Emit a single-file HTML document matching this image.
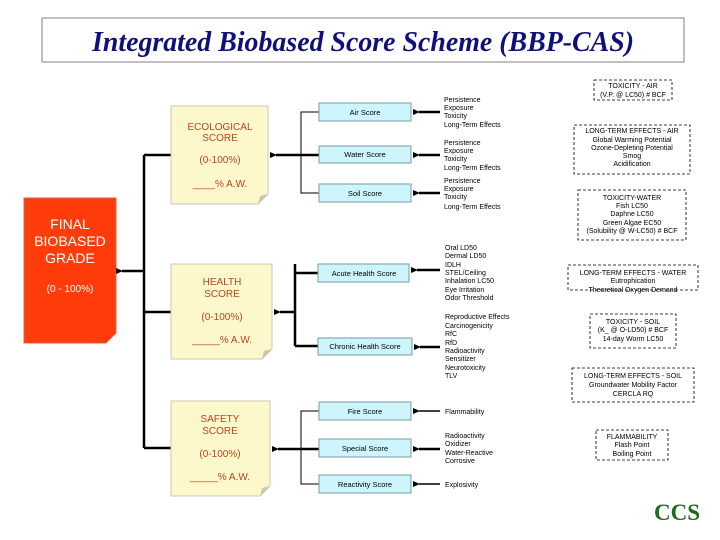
<!DOCTYPE html>
<html><head><meta charset="utf-8"><style>
body{margin:0;background:#fff;width:720px;height:540px;overflow:hidden}
svg{display:block}
.t{font-family:"Liberation Sans",sans-serif;font-size:7px;fill:#000}
.s{font-family:"Liberation Sans",sans-serif;font-size:7.5px;fill:#000;text-anchor:middle}
.o{font-family:"Liberation Sans",sans-serif;font-size:10px;fill:#b5461c;text-anchor:middle}
.d{font-family:"Liberation Sans",sans-serif;font-size:7px;fill:#000;text-anchor:middle}
</style></head><body>
<svg width="720" height="540" viewBox="0 0 720 540" xmlns="http://www.w3.org/2000/svg">
<defs><marker id="a" markerUnits="userSpaceOnUse" markerWidth="7" markerHeight="7" refX="1" refY="3.5" orient="auto"><path d="M7,0.5 L0,3.5 L7,6.5z" fill="#000"/></marker></defs>
<rect x="42" y="18" width="642" height="44" fill="#fff" stroke="#aaa" stroke-width="1.5"/>
<text x="92" y="51" textLength="542" lengthAdjust="spacingAndGlyphs" font-family="Liberation Serif,serif" font-style="italic" font-weight="bold" font-size="28" fill="#10107a">Integrated Biobased Score Scheme (BBP-CAS)</text>

<!-- final -->
<path d="M24,198 H116 V333 L106,343 H24z" fill="#ff3c0a" stroke="#e06040"/>
<g font-family="Liberation Sans,sans-serif" font-size="14" fill="#fff" text-anchor="middle"><text x="70" y="229">FINAL</text><text x="70" y="246">BIOBASED</text><text x="70" y="263">GRADE</text><text x="70" y="292" font-size="10">(0 - 100%)</text></g>
<path d="M144,155 V448" stroke="#000" stroke-width="2.5" fill="none"/>
<path d="M144,155 H171 M144,312 H171 M144,448 H171" stroke="#000" stroke-width="2.5"/>
<path d="M144,271 H122" stroke="#000" stroke-width="2.5" marker-end="url(#a)"/>

<!-- notes -->
<g fill="#fdf8cc" stroke="#c8c8b0">
<path d="M171,106 H268 V194 L258,204 H171z"/>
<path d="M171,264 H272 V349 L262,359 H171z"/>
<path d="M171,401 H270 V486 L260,496 H171z"/>
</g>
<g fill="#c8c8b0"><path d="M268,194 L258,204 L260,196z"/><path d="M272,349 L262,359 L264,351z"/><path d="M270,486 L260,496 L262,488z"/></g>
<text class="o" x="220" y="130">ECOLOGICAL</text><text class="o" x="220" y="141">SCORE</text><text class="o" x="220" y="163">(0-100%)</text><text class="o" x="220" y="187">____% A.W.</text>
<text class="o" x="222" y="285">HEALTH</text><text class="o" x="222" y="297">SCORE</text><text class="o" x="222" y="320">(0-100%)</text><text class="o" x="222" y="343">_____% A.W.</text>
<text class="o" x="220" y="422">SAFETY</text><text class="o" x="220" y="434">SCORE</text><text class="o" x="220" y="457">(0-100%)</text><text class="o" x="220" y="480">_____% A.W.</text>

<!-- connectors -->
<g stroke="#000" fill="none">
<path d="M319,112 H301 V193 H319"/>
<path d="M295,264 V346" stroke-width="2.5"/><path d="M295,273 H318 M295,346 H318" stroke-width="2.5"/>
<path d="M319,411 H301 V484 H319"/>
<path d="M319,155 H276" stroke-width="2.5" marker-end="url(#a)"/>
<path d="M295,312 H280" stroke-width="2.5" marker-end="url(#a)"/>
<path d="M319,449 H278" stroke-width="2.5" marker-end="url(#a)"/>
<g stroke-width="2.5">
<path d="M440,112 H419" marker-end="url(#a)"/>
<path d="M440,155 H419" marker-end="url(#a)"/>
<path d="M440,193 H419" marker-end="url(#a)"/>
<path d="M440,270 H417" marker-end="url(#a)"/>
<path d="M440,347 H420" marker-end="url(#a)"/>
<path d="M440,411 H419" marker-end="url(#a)" stroke-width="1.5"/>
<path d="M440,449 H419" marker-end="url(#a)"/>
<path d="M440,484 H419" marker-end="url(#a)" stroke-width="1.5"/>
</g></g>

<g fill="#ccf6fc" stroke="#7a9aa8">
<rect x="319" y="103" width="92" height="18"/><rect x="319" y="146" width="92" height="17"/><rect x="319" y="184" width="92" height="18"/>
<rect x="318" y="264" width="91" height="18"/><rect x="318" y="338" width="94" height="17"/>
<rect x="319" y="402" width="92" height="18"/><rect x="319" y="439" width="92" height="18"/><rect x="319" y="475" width="92" height="18"/>
</g>
<text class="s" x="365" y="115">Air Score</text><text class="s" x="365" y="157">Water Score</text><text class="s" x="365" y="196">Soil Score</text>
<text class="s" x="364" y="276">Acute Health Score</text><text class="s" x="365" y="349">Chronic Health Score</text>
<text class="s" x="365" y="414">Fire Score</text><text class="s" x="365" y="451">Special Score</text><text class="s" x="365" y="487">Reactivity Score</text>

<g class="t">
<text x="444" y="102">Persistence</text><text x="444" y="110">Exposure</text><text x="444" y="118">Toxicity</text><text x="444" y="127">Long-Term Effects</text>
<text x="444" y="145">Persistence</text><text x="444" y="153">Exposure</text><text x="444" y="161">Toxicity</text><text x="444" y="170">Long-Term Effects</text>
<text x="444" y="183">Persistence</text><text x="444" y="191">Exposure</text><text x="444" y="199">Toxicity</text><text x="444" y="209">Long-Term Effects</text>
<text x="445" y="250">Oral LD50</text><text x="445" y="258">Dermal LD50</text><text x="445" y="267">IDLH</text><text x="445" y="275">STEL/Ceiling</text><text x="445" y="283">Inhalation LC50</text><text x="445" y="292">Eye Irritation</text><text x="445" y="300">Odor Threshold</text>
<text x="445" y="319">Reproductive Effects</text><text x="445" y="328">Carcinogenicity</text><text x="445" y="336">RfC</text><text x="445" y="345">RfD</text><text x="445" y="353">Radioactivity</text><text x="445" y="361">Sensitizer</text><text x="445" y="370">Neurotoxicity</text><text x="445" y="378">TLV</text>
<text x="445" y="414">Flammability</text>
<text x="445" y="438">Radioactivity</text><text x="445" y="446">Oxidizer</text><text x="445" y="455">Water-Reactive</text><text x="445" y="463">Corrosive</text>
<text x="445" y="487">Explosivity</text>
</g>

<g fill="none" stroke="#000" stroke-dasharray="3,2" stroke-width="0.8">
<rect x="594" y="80" width="78" height="20"/><rect x="574" y="125" width="116" height="49"/>
<rect x="578" y="190" width="108" height="50"/><rect x="568" y="265" width="130" height="25"/>
<rect x="590" y="314" width="86" height="34"/><rect x="572" y="368" width="122" height="34"/>
<rect x="596" y="430" width="72" height="30"/>
</g>
<g class="d">
<text x="633" y="88">TOXICITY - AIR</text><text x="633" y="97">(V.P. @ LC50) # BCF</text>
<text x="632" y="133">LONG-TERM EFFECTS - AIR</text><text x="632" y="142">Global Warming Potential</text><text x="632" y="150">Ozone-Depleting Potential</text><text x="632" y="158">Smog</text><text x="632" y="166">Acidification</text>
<text x="632" y="200">TOXICITY-WATER</text><text x="632" y="208">Fish LC50</text><text x="632" y="216">Daphne LC50</text><text x="632" y="225">Green Algae EC50</text><text x="632" y="233">(Solubility @ W-LC50) # BCF</text>
<text x="633" y="275">LONG-TERM EFFECTS - WATER</text><text x="633" y="283">Eutrophication</text><text x="633" y="292">Theoretical Oxygen Demand</text>
<text x="633" y="324">TOXICITY - SOIL</text><text x="633" y="332">(K_ @ O-LD50) # BCF</text><text x="633" y="341">14-day Worm LC50</text>
<text x="633" y="378">LONG-TERM EFFECTS - SOIL</text><text x="633" y="387">Groundwater Mobility Factor</text><text x="633" y="396">CERCLA RQ</text>
<text x="632" y="439">FLAMMABILITY</text><text x="632" y="447">Flash Point</text><text x="632" y="456">Boiling Point</text>
</g>
<text x="677" y="520" text-anchor="middle" font-family="Liberation Serif,serif" font-weight="bold" font-size="23" fill="#1d6b1d">CCS</text>
</svg>
</body></html>
